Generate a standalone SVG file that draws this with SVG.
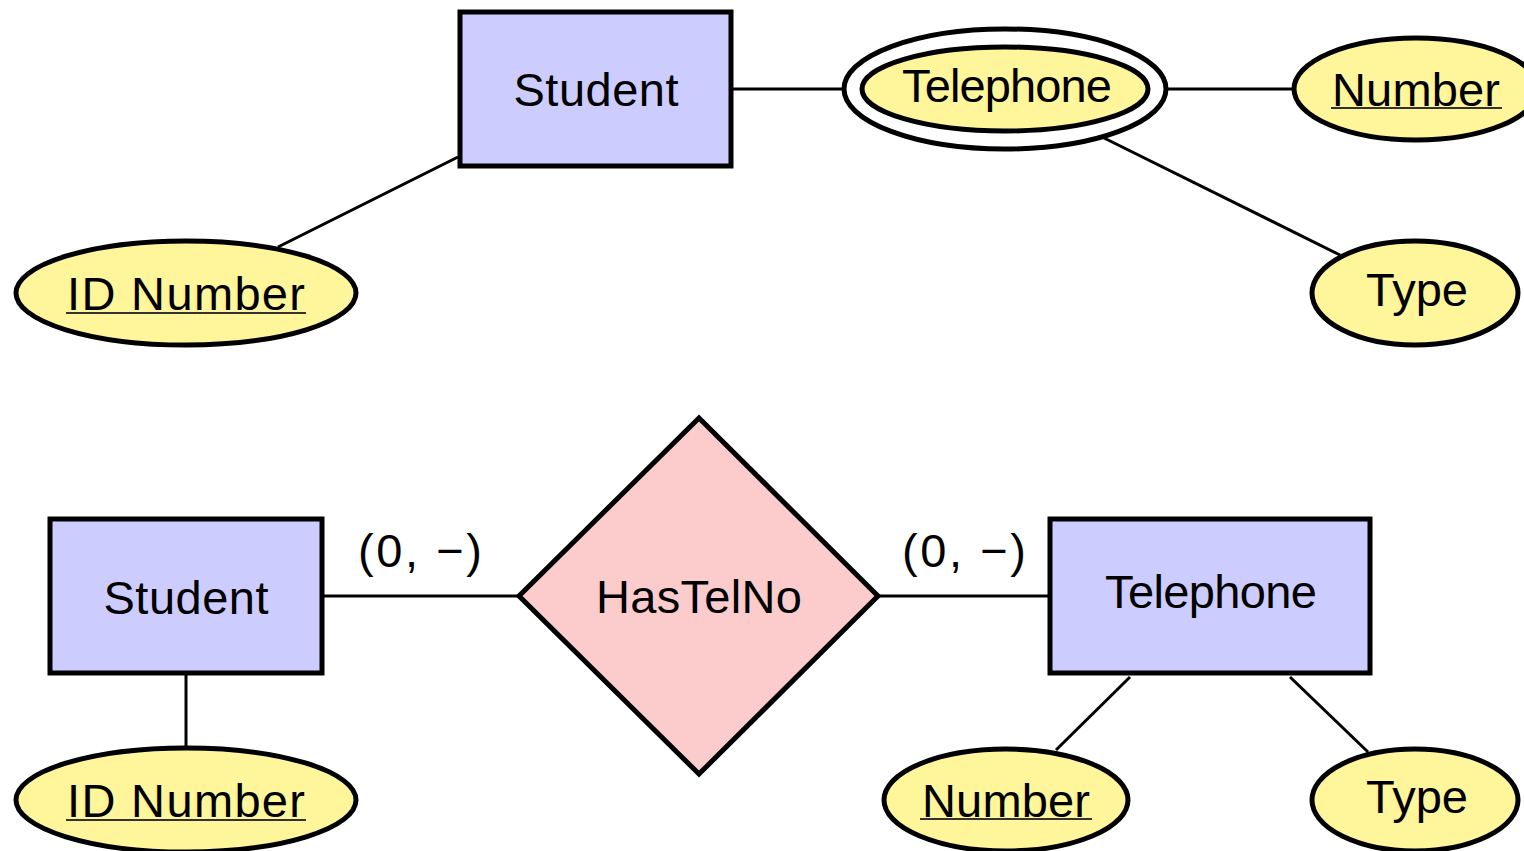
<svg xmlns="http://www.w3.org/2000/svg" width="1524" height="851" viewBox="0 0 1524 851">
  <style>
    .entity { fill: #ccccff; stroke: #000; stroke-width: 5; }
    .attr { fill: #fff59a; stroke: #000; stroke-width: 5; }
    .rel { fill: #fccccc; stroke: #000; stroke-width: 5; stroke-linejoin: miter; }
    .ring { fill: #fff; stroke: #000; stroke-width: 5; }
    .edge { stroke: #000; stroke-width: 3; fill: none; }
    .label { font-family: "Liberation Sans", "Open Sans", sans-serif; font-size: 47px; fill: #000; text-anchor: middle; }
    .key { stroke: #333; stroke-width: 2; }
  </style>

  <!-- connectors -->
  <g id="connectors">
    <line class="edge" x1="458" y1="157" x2="278" y2="247"/>
    <line class="edge" x1="733" y1="89" x2="846" y2="89"/>
    <line class="edge" x1="1166" y1="89" x2="1296" y2="89"/>
    <line class="edge" x1="1098" y1="135" x2="1340" y2="255"/>

    <line class="edge" x1="186" y1="675" x2="186" y2="748"/>
    <line class="edge" x1="322" y1="596" x2="519" y2="596"/>
    <line class="edge" x1="878" y1="596" x2="1050" y2="596"/>
    <line class="edge" x1="1130" y1="677" x2="1056" y2="750"/>
    <line class="edge" x1="1290" y1="677" x2="1368" y2="752"/>
    <text class="label" x="420" y="567" textLength="124" lengthAdjust="spacing">(0, −)</text>
    <text class="label" x="964" y="567" textLength="124" lengthAdjust="spacing">(0, −)</text>
  </g>

  <!-- upper diagram: multivalued composite attribute -->
  <g id="student-top">
    <rect class="entity" x="460" y="12" width="271" height="154"/>
    <text class="label" x="596" y="106" textLength="165">Student</text>
  </g>
  <g id="idnumber-top">
    <ellipse class="attr" cx="186" cy="293" rx="170" ry="52"/>
    <text class="label" x="186" y="310" textLength="238">ID Number</text>
    <line class="key" x1="66" y1="313" x2="306" y2="313"/>
  </g>
  <g id="telephone-attr">
    <ellipse class="ring" cx="1005" cy="89" rx="161" ry="60"/>
    <ellipse class="attr" cx="1005" cy="89" rx="143" ry="42"/>
    <text class="label" x="1007" y="102" textLength="210">Telephone</text>
  </g>
  <g id="number-top">
    <ellipse class="attr" cx="1416" cy="89" rx="122" ry="51"/>
    <text class="label" x="1416" y="106" textLength="168">Number</text>
    <line class="key" x1="1331" y1="108" x2="1502" y2="108"/>
  </g>
  <g id="type-top">
    <ellipse class="attr" cx="1415" cy="293" rx="103" ry="52"/>
    <text class="label" x="1417" y="306">Type</text>
  </g>

  <!-- lower diagram: separate entity with relationship -->
  <g id="student-bottom">
    <rect class="entity" x="50" y="519" width="272" height="154"/>
    <text class="label" x="186" y="614" textLength="165">Student</text>
  </g>
  <g id="idnumber-bottom">
    <ellipse class="attr" cx="186" cy="800" rx="170" ry="52"/>
    <text class="label" x="186" y="817" textLength="238">ID Number</text>
    <line class="key" x1="66" y1="820" x2="306" y2="820"/>
  </g>
  <g id="hastelno">
    <polygon class="rel" points="699,418 878,596 699,774 519,596"/>
    <text class="label" x="699" y="613" textLength="206">HasTelNo</text>
  </g>
  <g id="telephone-entity">
    <rect class="entity" x="1050" y="519" width="320" height="154"/>
    <text class="label" x="1211" y="608" textLength="212">Telephone</text>
  </g>
  <g id="number-bottom">
    <ellipse class="attr" cx="1006" cy="800" rx="122" ry="51"/>
    <text class="label" x="1006" y="817" textLength="168">Number</text>
    <line class="key" x1="920" y1="819" x2="1092" y2="819"/>
  </g>
  <g id="type-bottom">
    <ellipse class="attr" cx="1415" cy="800" rx="103" ry="51"/>
    <text class="label" x="1417" y="813">Type</text>
  </g>
</svg>
